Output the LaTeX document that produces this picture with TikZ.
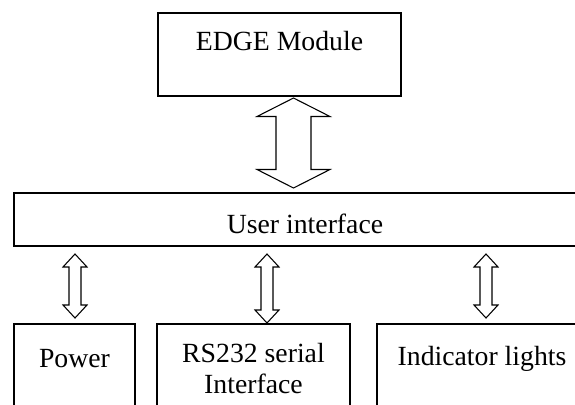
\documentclass[tikz,border=0pt]{standalone}
\usepackage{fontspec}
\setmainfont{Liberation Serif}
\usepackage{tikz}
\usetikzlibrary{calc}

% double block arrow between two tips: from, to, shaft half, head half, head length
\newcommand{\dblarrow}[5]{%
  \draw[blockarrow] let \p1 = #1, \p2 = #2 in
    (\p1) -- ++(#4,#5) -- ++(#3-#4,0) -- ($(\p2)+(#3,-#5)$) -- ++(#4-#3,0)
    -- (\p2) -- ++(-#4,-#5) -- ++(#4-#3,0) -- ($(\p1)+(-#3,#5)$)
    -- ++(#3-#4,0) -- cycle;
}

\begin{document}
\begin{tikzpicture}[
            x = 0.75pt, y = -0.75pt, % pixel units, y down
            semithick % line style
        ]

        \tikzstyle{box}=[
            draw,
            line width = 1.1pt,
            anchor = north west,
            inner sep = 0pt,
            outer sep = 0pt,
            align = center,
            font = \fontsize{20.8}{23.25}\selectfont
        ]
        \tikzstyle{blockarrow}=[
            draw,
            line width = 0.8pt,
            fill = white,
            line join = miter
        ]

        \useasboundingbox (0,0) rectangle (575,404);
        \clip (0,0) rectangle (575,404);

	% top level
        \node[box, minimum width = 182.25pt, text height = 27.75pt, text depth = 34.5pt] (edge) at (158,13) {EDGE Module};
        \node[box, minimum width = 436.5pt, text height = 30pt, text depth = 9.75pt] (ui) at (14,193) {User interface};

        % devices
        \node[box, minimum width = 90.75pt, text height = 32.25pt, text depth = 60pt] (power) at (14,324) {Power};
        \node[box, minimum width = 144.75pt, text height = 51.75pt, text depth = 40pt] (rs) at (157,324) {RS232 serial\\Interface};
        \node[box, minimum width = 157.5pt, text height = 30.75pt, text depth = 60pt] (ind) at (377,324) {Indicator lights};

        % links
        \dblarrow{($(edge.south)+(14,2)$)}{($(ui.north)+(-11.5,-5)$)}{17.5}{36.5}{18.5}
        \dblarrow{($(ui.south -| power.north)+(0.5,8)$)}{($(power.north)+(0.5,-6)$)}{6}{12}{13}
        \dblarrow{($(ui.south -| rs.north)+(13.5,8)$)}{($(rs.north)+(13.5,-1)$)}{6}{12}{13}
        \dblarrow{($(ui.south -| ind.north)+(4,8)$)}{($(ind.north)+(4,-6)$)}{6}{12}{13}

  \end{tikzpicture}
\end{document}
